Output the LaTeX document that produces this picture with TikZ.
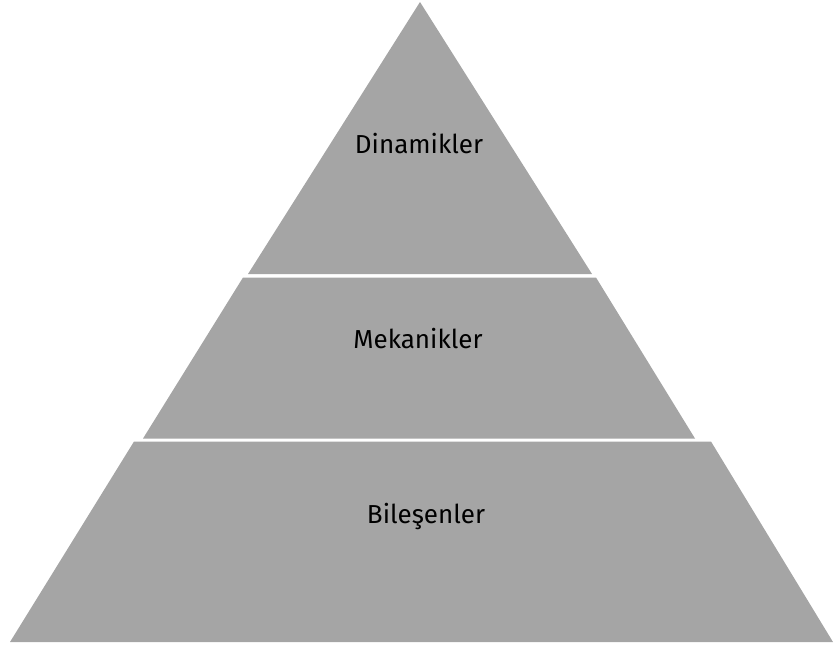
\documentclass[tikz,border=0pt]{standalone}
\usepackage{fontspec}
\setmainfont{Fira Sans}
\begin{document}
\begin{tikzpicture}[x=1pt,y=-1pt,
  tier/.style={fill=tiergray,draw=none},
  lbl/.style={font=\fontsize{26}{30}\selectfont,text=black,anchor=base,inner sep=0pt}]
\definecolor{tiergray}{HTML}{A5A5A5}
\useasboundingbox (0,0) rectangle (834,649);
\fill[tiergray] (420,2) -- (592,274) -- (248,274) -- cycle;
\fill[tiergray] (243,277.5) -- (596,277.5) -- (695,438.5) -- (143,438.5) -- cycle;
\fill[tiergray] (134,441.5) -- (711,441.5) -- (833,642) -- (10,642) -- cycle;
\node[lbl] (t1) at (419,153) {Dinamikler};
\node[lbl] (t2) at (418,348) {Mekanikler};
\node[lbl] (t3) at (426,523) {Bileşenler};
\end{tikzpicture}
\end{document}
